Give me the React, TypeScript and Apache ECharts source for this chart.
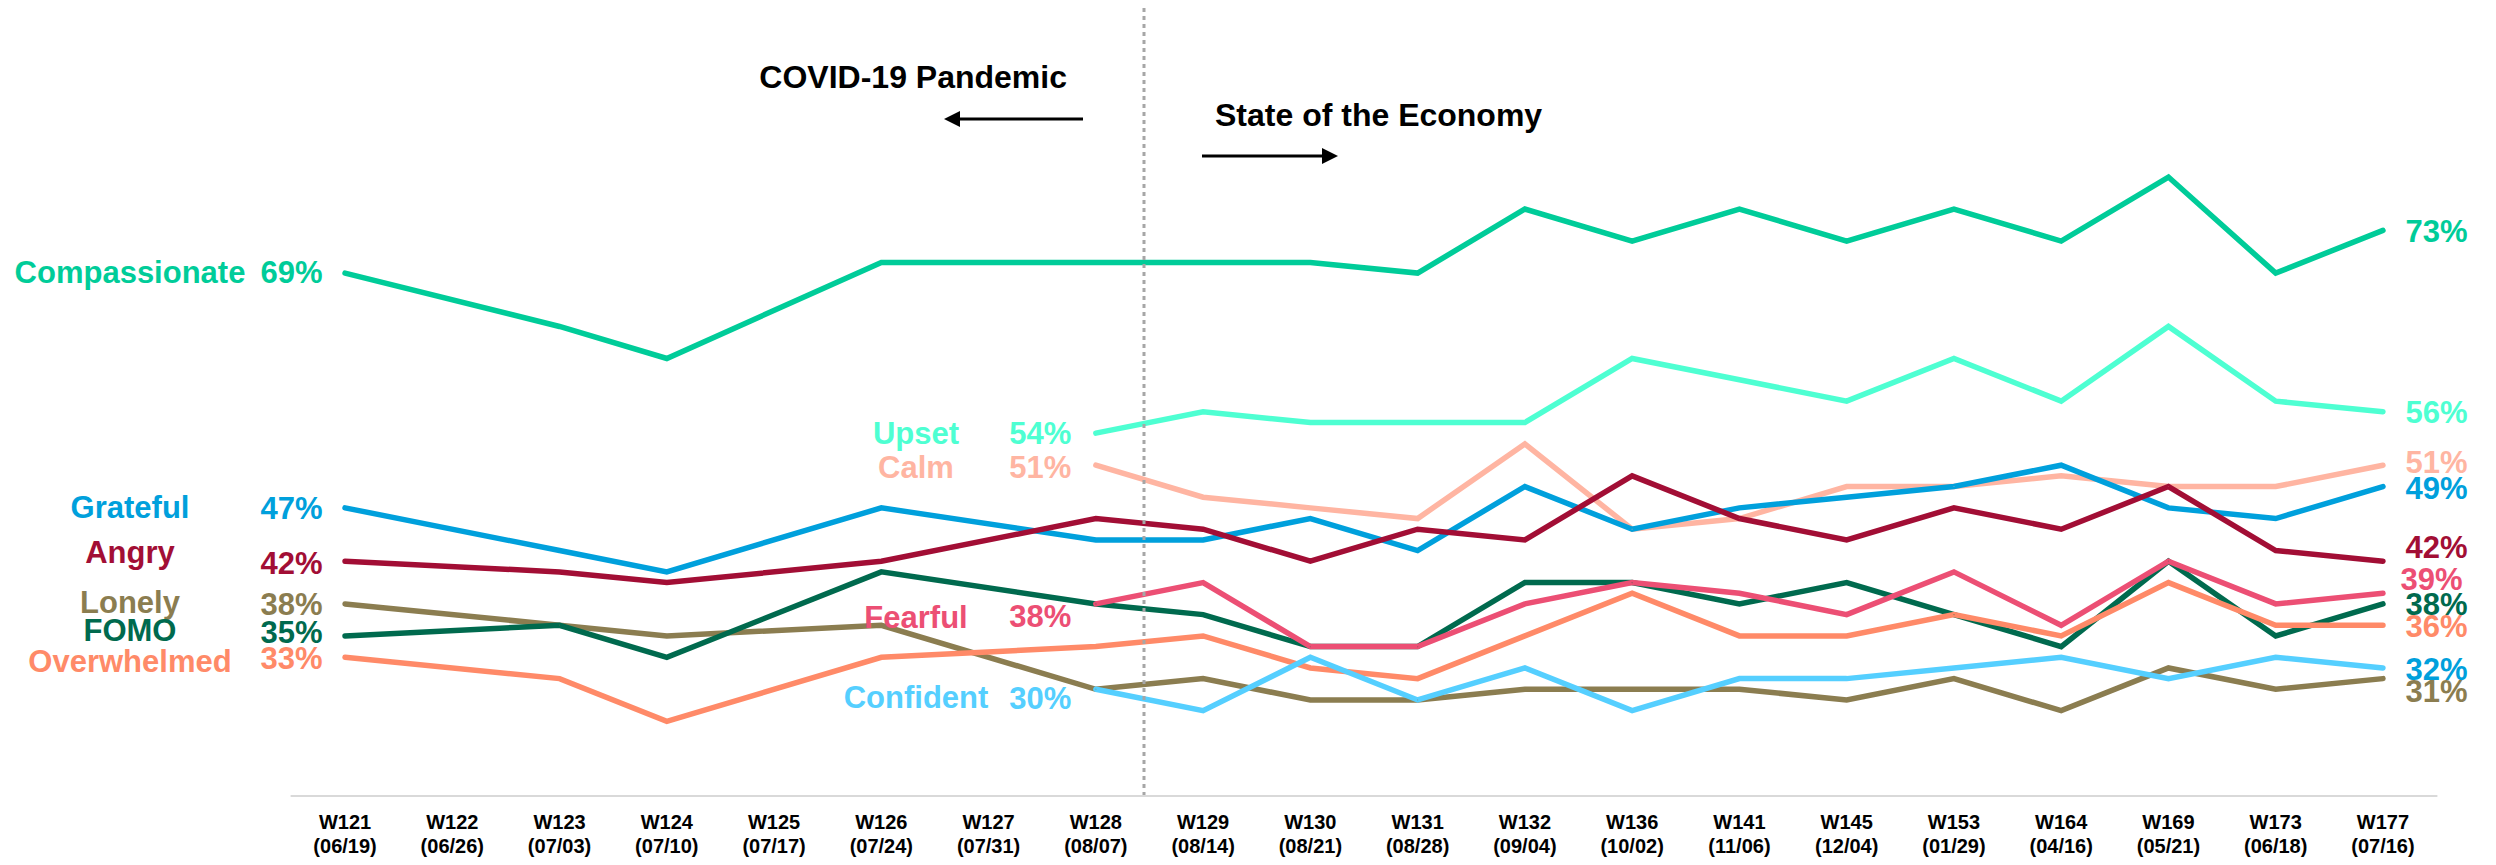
import React, { useEffect, useRef } from "react";
import * as echarts from "echarts";

const weeks = ["W121", "W122", "W123", "W124", "W125", "W126", "W127", "W128", "W129", "W130", "W131", "W132", "W136", "W141", "W145", "W153", "W164", "W169", "W173", "W177"];
const dates = ["06/19", "06/26", "07/03", "07/10", "07/17", "07/24", "07/31", "08/07", "08/14", "08/21", "08/28", "09/04", "10/02", "11/06", "12/04", "01/29", "04/16", "05/21", "06/18", "07/16"];

const compassionate = [69, null, 64, 61, null, 70, null, 70, 70, 70, 69, 75, 72, 75, 72, 75, 72, 78, 69, 73];
const upset = [null, null, null, null, null, null, null, 54, 56, 55, 55, 55, 61, 59, 57, 61, 57, 64, 57, 56];
const calm = [null, null, null, null, null, null, null, 51, 48, 47, 46, 53, 45, 46, 49, 49, 50, 49, 49, 51];
const grateful = [47, null, 43, 41, null, 47, null, 44, 44, 46, 43, 49, 45, 47, 48, 49, 51, 47, 46, 49];
const angry = [42, null, 41, 40, null, 42, null, 46, 45, 42, 45, 44, 50, 46, 44, 47, 45, 49, 43, 42];
const lonely = [38, null, 36, 35, null, 36, null, 30, 31, 29, 29, 30, 30, 30, 29, 31, 28, 32, 30, 31];
const fomo = [35, null, 36, 33, null, 41, null, 38, 37, 34, 34, 40, 40, 38, 40, 37, 34, 42, 35, 38];
const overwhelmed = [33, null, 31, 27, null, 33, null, 34, 35, 32, 31, 35, 39, 35, 35, 37, 35, 40, 36, 36];
const fearful = [null, null, null, null, null, null, null, 38, 40, 34, 34, 38, 40, 39, 37, 41, 36, 42, 38, 39];
const confident = [null, null, null, null, null, null, null, 30, 28, 33, 29, 32, 28, 31, 31, 32, 33, 31, 33, 32];

const FONT = '"Liberation Sans", Arial, Helvetica, sans-serif';

type Cfg = {
  name: string;
  data: (number | null)[];
  color: string;
  endColor?: string;
  startDist: number;
  startDy: number;
  endDist: number;
  endDy: number;
  nameX: number;
  nameY: number;
};

const configs: Cfg[] = [
  { name: "Compassionate", data: compassionate, color: "#00CC99", startDist: 22, startDy: -1, endDist: 22, endDy: 1, nameX: 130, nameY: 272 },
  { name: "Upset", data: upset, color: "#4EFFD2", startDist: 24, startDy: 0, endDist: 22, endDy: 1, nameX: 916, nameY: 433 },
  { name: "Calm", data: calm, color: "#FFB5A2", startDist: 24, startDy: 2, endDist: 22, endDy: -3, nameX: 916, nameY: 467 },
  { name: "Grateful", data: grateful, color: "#00A0DC", startDist: 22, startDy: 1, endDist: 22, endDy: 2, nameX: 130, nameY: 507 },
  { name: "Angry", data: angry, color: "#A20E35", startDist: 22, startDy: 2, endDist: 22, endDy: -14, nameX: 130, nameY: 552 },
  { name: "Lonely", data: lonely, color: "#8B7D50", startDist: 22, startDy: 1, endDist: 22, endDy: 13, nameX: 130, nameY: 602 },
  { name: "FOMO", data: fomo, color: "#006A4E", startDist: 22, startDy: -3, endDist: 22, endDy: 1, nameX: 130, nameY: 630 },
  { name: "Overwhelmed", data: overwhelmed, color: "#FF8A68", startDist: 22, startDy: 1, endDist: 22, endDy: 1, nameX: 130, nameY: 661 },
  { name: "Fearful", data: fearful, color: "#EC4F74", startDist: 24, startDy: 13, endDist: 17, endDy: -14, nameX: 916, nameY: 617 },
  { name: "Confident", data: confident, color: "#55CFFF", endColor: "#00A0DC", startDist: 24, startDy: 9, endDist: 22, endDy: 2, nameX: 916, nameY: 697 },
];

function labelStyle(color: string) {
  return {
    show: true,
    color,
    fontSize: 31,
    fontWeight: "bold" as const,
    fontFamily: FONT,
    formatter: "{c}%",
  };
}

function buildSeries(c: Cfg) {
  let first = -1;
  let last = -1;
  c.data.forEach((v, i) => {
    if (v !== null) {
      if (first < 0) first = i;
      last = i;
    }
  });
  const data = c.data.map((v, i) => {
    if (v === null) return null;
    if (i === first) {
      return {
        value: v,
        label: { ...labelStyle(c.color), position: "left", distance: c.startDist, offset: [0, c.startDy] },
      };
    }
    if (i === last) {
      return {
        value: v,
        label: { ...labelStyle(c.endColor || c.color), position: "right", distance: c.endDist, offset: [0, c.endDy] },
      };
    }
    return v;
  });
  return {
    type: "line",
    name: c.name,
    data,
    connectNulls: true,
    symbol: "circle",
    symbolSize: 1,
    showSymbol: true,
    showAllSymbol: true,
    itemStyle: { color: c.color },
    lineStyle: { color: c.color, width: 5.5, cap: "round", join: "miter" },
    label: { show: false },
    emphasis: { disabled: true },
    silent: true,
  };
}

export default function App() {
  const ref = useRef<HTMLDivElement>(null);
  useEffect(() => {
    if (!ref.current) return;
    const chart = echarts.init(ref.current, null, { renderer: "svg" });

    const nameTexts = configs.map((c) => ({
      type: "text",
      x: c.nameX,
      y: c.nameY,
      z: 50,
      style: {
        text: c.name,
        fill: c.color,
        fontSize: 31,
        fontWeight: "bold",
        fontFamily: FONT,
        align: "center",
        verticalAlign: "middle",
      },
    }));

    const option = {
      animation: false,
      backgroundColor: "#ffffff",
      grid: { left: 291.4, right: 59.4, top: 49, bottom: 69, containLabel: false },
      xAxis: {
        type: "category",
        data: weeks,
        boundaryGap: true,
        axisLine: { show: true, lineStyle: { color: "#D9D9D9", width: 2 } },
        axisTick: { show: false },
        splitLine: { show: false },
        axisLabel: {
          interval: 0,
          color: "#000000",
          fontSize: 20,
          fontWeight: "bold",
          fontFamily: FONT,
          lineHeight: 24,
          margin: 14,
          formatter: (v: string, i: number) => `${v}\n(${dates[i]})`,
        },
      },
      yAxis: {
        type: "value",
        min: 20,
        max: 90,
        show: false,
        splitLine: { show: false },
      },
      series: configs.map(buildSeries),
      graphic: [
        ...nameTexts,
        {
          type: "line",
          z: 100,
          shape: { x1: 1144, y1: 8, x2: 1144, y2: 795 },
          style: { stroke: "#A6A6A6", lineWidth: 3, lineDash: [4, 4] },
        },
        {
          type: "text",
          x: 1067,
          y: 77,
          z: 50,
          style: {
            text: "COVID-19 Pandemic",
            fill: "#000000",
            fontSize: 32,
            fontWeight: "bold",
            fontFamily: FONT,
            align: "right",
            verticalAlign: "middle",
          },
        },
        {
          type: "line",
          z: 50,
          shape: { x1: 956, y1: 119, x2: 1083, y2: 119 },
          style: { stroke: "#000000", lineWidth: 3 },
        },
        {
          type: "polygon",
          z: 50,
          shape: { points: [[944, 119], [960, 111], [960, 127]] },
          style: { fill: "#000000" },
        },
        {
          type: "text",
          x: 1215,
          y: 115,
          z: 50,
          style: {
            text: "State of the Economy",
            fill: "#000000",
            fontSize: 32,
            fontWeight: "bold",
            fontFamily: FONT,
            align: "left",
            verticalAlign: "middle",
          },
        },
        {
          type: "line",
          z: 50,
          shape: { x1: 1202, y1: 156, x2: 1325, y2: 156 },
          style: { stroke: "#000000", lineWidth: 3 },
        },
        {
          type: "polygon",
          z: 50,
          shape: { points: [[1338, 156], [1322, 148], [1322, 164]] },
          style: { fill: "#000000" },
        },
      ],
    };
    chart.setOption(option as any);
    return () => chart.dispose();
  }, []);

  return (
    <div
      ref={ref}
      style={{ position: "absolute", left: 0, top: 0, width: 2496, height: 865, background: "#ffffff" }}
    />
  );
}
